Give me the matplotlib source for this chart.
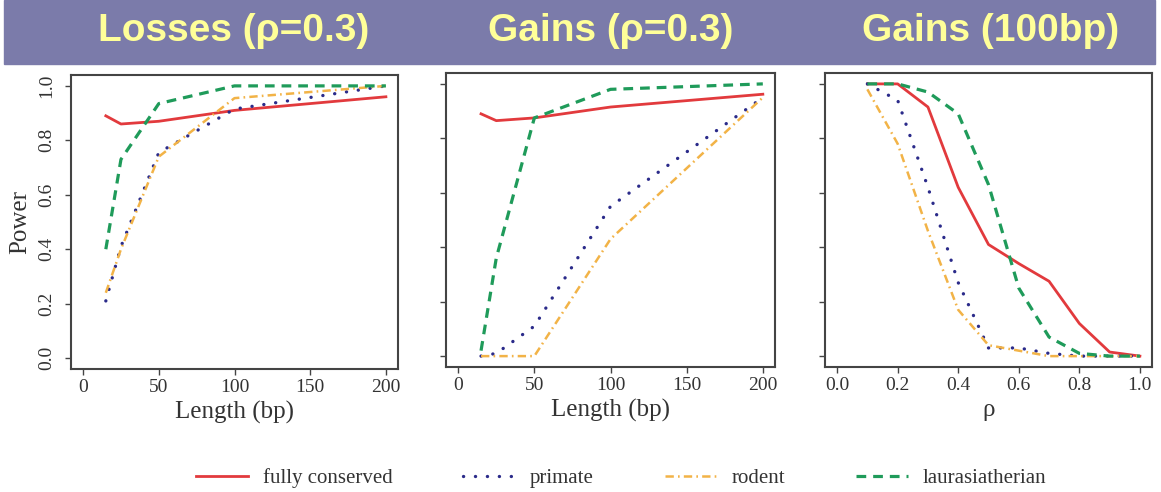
import numpy as np
import matplotlib.pyplot as plt
from matplotlib.patches import Rectangle
from matplotlib.lines import Line2D

plt.rcParams['lines.scale_dashes'] = False

# power vs. segment length (bp), rho = 0.3
length = [15, 25, 50, 100, 200]
loss_full = [0.89, 0.86, 0.87, 0.91, 0.96]
loss_primate = [0.21, 0.41, 0.755, 0.915, 1.0]
loss_rodent = [0.24, 0.40, 0.74, 0.955, 1.0]
loss_laur = [0.40, 0.73, 0.935, 1.0, 1.0]

gain_full = [0.89, 0.865, 0.875, 0.915, 0.962]
gain_primate = [0.0, 0.01, 0.11, 0.55, 0.95]
gain_rodent = [0.0, 0.0, 0.0, 0.43, 0.95]
gain_laur = [0.02, 0.36, 0.875, 0.98, 1.0]

# power vs. rho, 100bp gains
rho = [0.1, 0.2, 0.3, 0.4, 0.5, 0.6, 0.7, 0.8, 0.9, 1.0]
rho_full = [1.0, 1.0, 0.915, 0.62, 0.41, 0.34, 0.275, 0.12, 0.015, 0.0]
rho_primate = [1.0, 0.94, 0.62, 0.27, 0.03, 0.03, 0.01, 0.0, 0.0, 0.0]
rho_rodent = [0.98, 0.78, 0.46, 0.17, 0.04, 0.02, 0.0, 0.0, 0.0, 0.0]
rho_laur = [1.0, 1.0, 0.97, 0.89, 0.63, 0.25, 0.07, 0.01, 0.0, 0.0]

titles = ['Losses (\u03c1=0.3)', 'Gains (\u03c1=0.3)', 'Gains (100bp)']
names = ['fully conserved', 'primate', 'rodent', 'laurasiatherian']

styles = [
    dict(color='#E23A3D', lw=2.0, ls='-'),
    dict(color='#2B2B8A', lw=2.4, ls=(0, (0.1, 8.5)), dash_capstyle='round'),
    dict(color='#F2B347', lw=1.8, ls=(0, (6, 3, 1.2, 3))),
    dict(color='#1F9B5A', lw=2.3, ls=(0, (7, 5))),
]

W, H = 1161, 492
fig = plt.figure(figsize=(W / 100, H / 100), dpi=100)


def px_axes(l, t, r, b):
    return fig.add_axes([l / W, 1 - b / H, (r - l) / W, (b - t) / H])


# purple header band
fig.patches.append(Rectangle((4 / W, 1 - 64 / H), 1151 / W, 64 / H,
                             transform=fig.transFigure, color='#7B7BAA', zorder=0))
for cx, t in zip([234, 611, 991], titles):
    fig.text(cx / W, 1 - 31 / H, t, ha='center', va='center', fontsize=28,
             fontweight='bold', color='#FFFF99', family='Liberation Sans')

serif = 'Liberation Serif'
panels = [
    (px_axes(71, 75, 398, 369), length, [loss_full, loss_primate, loss_rodent, loss_laur]),
    (px_axes(446, 73, 775, 367), length, [gain_full, gain_primate, gain_rodent, gain_laur]),
    (px_axes(825, 73, 1152, 367), rho, [rho_full, rho_primate, rho_rodent, rho_laur]),
]

for i, (ax, x, series) in enumerate(panels):
    for y, st in zip(series, styles):
        ax.plot(x, y, **st)
    ax.set_ylim(-0.04, 1.04)
    ax.set_yticks([0, 0.2, 0.4, 0.6, 0.8, 1.0])
    if i < 2:
        ax.set_xlim(-8, 208)
        ax.set_xticks([0, 50, 100, 150, 200])
        ax.set_xlabel('Length (bp)', family=serif, fontsize=18, color='#333333', labelpad=3)
    else:
        ax.set_xlim(-0.04, 1.04)
        ax.set_xticks([0, 0.2, 0.4, 0.6, 0.8, 1.0])
        ax.set_xticklabels(['0.0', '0.2', '0.4', '0.6', '0.8', '1.0'])
        ax.set_xlabel('\u03c1', family=serif, fontsize=18, color='#333333', labelpad=3)
    ax.tick_params(direction='out', length=4.5, width=1, color='#444444',
                   labelcolor='#333333', labelsize=14, pad=3)
    for lab in ax.get_xticklabels():
        lab.set_family(serif)
    for sp in ax.spines.values():
        sp.set_color('#444444')
        sp.set_linewidth(1.5)
    if i == 0:
        ax.set_yticklabels(['0.0', '0.2', '0.4', '0.6', '0.8', '1.0'])
        ax.tick_params(axis='y', pad=7)
        for lab in ax.get_yticklabels():
            lab.set_family(serif)
            lab.set_rotation(90)
            lab.set_va('center')
        ax.set_ylabel('Power', family=serif, fontsize=18, color='#333333', labelpad=5)
    else:
        ax.set_yticklabels([])

handles = [Line2D([], [], **st) for st in styles]
fig.legend(handles, names, loc='center', bbox_to_anchor=(621 / W, 1 - 478 / H),
           ncol=4, frameon=False, prop={'family': serif, 'size': 15},
           handlelength=2.5, handletextpad=0.7, columnspacing=3.4,
           labelcolor='#333333')

fig.savefig('out.png', dpi=100)
